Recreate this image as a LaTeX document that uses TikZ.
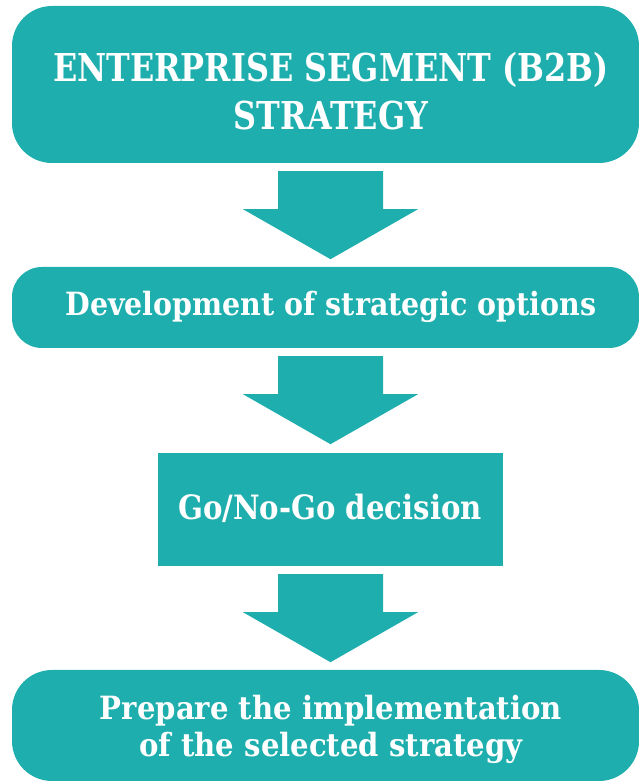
\documentclass[tikz,border=0pt]{standalone}
\usepackage{fontspec}
\setmainfont{DejaVu Serif}
\newfontfamily\fontA[FakeStretch=0.83]{DejaVu Serif}
\newfontfamily\fontB[FakeStretch=0.89]{DejaVu Serif}
\newfontfamily\fontC[FakeStretch=0.87]{DejaVu Serif}
\newfontfamily\fontD[FakeStretch=0.91]{DejaVu Serif}
\usetikzlibrary{calc}
\definecolor{tealbox}{HTML}{1EAEAE}
\tikzset{
  box/.style={fill=tealbox, inner sep=0pt, anchor=center},
  label/.style={text=white, inner sep=0pt, anchor=base},
  blockarrow/.style={fill=tealbox}
}
\newcommand\downarrowshape[1]{%
  \fill[blockarrow] ($(#1)+(-52.5,0)$) -- ($(#1)+(52.5,0)$) -- ($(#1)+(52.5,-38)$) -- ($(#1)+(87.5,-38)$)
    -- ($(#1)+(0,-88)$) -- ($(#1)+(-87.5,-38)$) -- ($(#1)+(-52.5,-38)$) -- cycle;}
\begin{document}
\begin{tikzpicture}[x=1pt,y=1pt]
\useasboundingbox (0,0) rectangle (639,782);
\node[box, minimum width=627pt, minimum height=157pt, rounded corners=40pt] (b1) at (325.5,697.5) {};
\node[box, minimum width=627pt, minimum height=81pt, rounded corners=30pt] (b2) at (325.5,474.5) {};
\node[box, minimum width=345pt, minimum height=113pt] (b3) at (330.5,272.5) {};
\node[box, minimum width=627pt, minimum height=111pt, rounded corners=40pt] (b4) at (325.5,56.5) {};
\node[label, font=\fontA\bfseries\fontsize{38.4}{46}\selectfont] (t1a) at (331,700) {ENTERPRISE SEGMENT (B2B)};
\node[label, font=\fontA\bfseries\fontsize{38.4}{46}\selectfont] (t1b) at (331,652) {STRATEGY};
\node[label, font=\fontB\bfseries\fontsize{32}{38}\selectfont] (t2) at (331,466) {Development of strategic options};
\node[label, font=\fontC\bfseries\fontsize{33.5}{40}\selectfont] (t3) at (330,262) {Go/No-Go decision};
\node[label, font=\fontD\bfseries\fontsize{32}{38}\selectfont] (t4a) at (331,62) {Prepare the implementation};
\node[label, font=\fontD\bfseries\fontsize{32}{38}\selectfont] (t4b) at (331,25) {of the selected strategy};
\coordinate (a1) at ($(b1.south)+(5,-8)$);
\coordinate (a2) at ($(b2.south)+(5,-8)$);
\coordinate (a3) at ($(b3.south)+(0,-8)$);
\downarrowshape{a1}
\downarrowshape{a2}
\downarrowshape{a3}
\end{tikzpicture}
\end{document}
